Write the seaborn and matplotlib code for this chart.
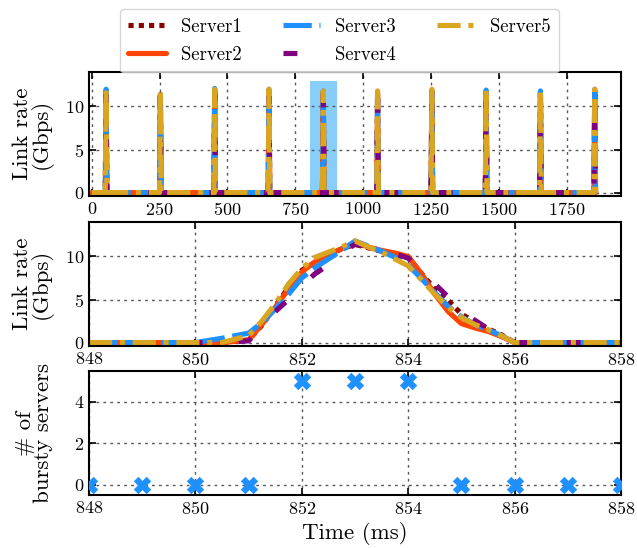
import matplotlib.pyplot as plt
import seaborn as sns
import pandas as pd
import numpy as np

sns.set_theme(style="ticks")
plt.rcParams.update({
    "font.family": "serif",
    "font.serif": ["cmr10"],
    "mathtext.fontset": "cm",
    "axes.formatter.use_mathtext": True,
    "axes.linewidth": 1.5,
    "axes.edgecolor": "black",
    "xtick.direction": "in",
    "ytick.direction": "in",
    "xtick.top": True,
    "ytick.right": True,
    "xtick.major.size": 5,
    "ytick.major.size": 5,
    "xtick.major.width": 1.2,
    "ytick.major.width": 1.2,
    "xtick.labelsize": 13,
    "ytick.labelsize": 13,
    "xtick.color": "black",
    "ytick.color": "black",
    "axes.labelcolor": "black",
    "text.color": "black",
})

servers = ["Server1", "Server2", "Server3", "Server4", "Server5"]
colors = {"Server1": "#8B0000", "Server2": "#FF4500", "Server3": "#1E90FF",
          "Server4": "#800080", "Server5": "#DAA520"}
dashes = {"Server1": (1, 1), "Server2": "", "Server3": (5.5, 1.5),
          "Server4": (2.7, 7), "Server5": (4.5, 1.5, 1, 1.5)}

# --- overview (0 - 1900 ms): one spike every 200 ms ---
burst_start = [50, 250, 450, 650, 850, 1050, 1250, 1450, 1650, 1850]
burst_peak = [53, 253, 453, 653, 853, 1053, 1253, 1453, 1653, 1853]
burst_end = [56, 256, 456, 656, 856, 1056, 1256, 1456, 1656, 1856]
peaks = {
    "Server1": [11.6, 11.2, 11.7, 11.6, 11.4, 11.3, 11.7, 11.6, 11.4, 11.7],
    "Server2": [11.8, 11.4, 11.8, 11.7, 11.7, 11.5, 11.8, 11.7, 11.5, 11.8],
    "Server3": [12.0, 11.3, 12.1, 12.0, 11.8, 11.6, 12.1, 11.9, 11.8, 12.0],
    "Server4": [11.3, 11.0, 11.4, 11.3, 11.4, 11.1, 11.4, 11.3, 11.2, 11.4],
    "Server5": [12.0, 11.7, 12.0, 12.0, 11.8, 11.8, 12.0, 12.0, 11.8, 12.0],
}

# --- zoom window 848 - 858 ms ---
zoom_time = [848, 849, 850, 850.5, 851, 851.25, 851.5, 851.75, 852, 852.25,
             852.5, 852.75, 853, 853.25, 853.5, 853.75, 854, 854.25, 854.5,
             854.75, 855, 855.25, 855.5, 855.75, 856, 857, 858]
zoom_rate = {
    "Server1": [0, 0, 0, 0, 0.3, 2.0, 4.2, 6.4, 8.4, 9.3, 10.1, 10.9, 11.4,
                11.0, 10.6, 10.3, 9.9, 8.0, 6.2, 4.9, 3.3, 2.4, 1.6, 0.9, 0, 0, 0],
    "Server2": [0, 0, 0, 0, 0.3, 2.1, 4.1, 6.2, 8.2, 9.4, 10.2, 10.9, 11.6,
                11.1, 10.7, 10.4, 10.0, 8.0, 5.6, 3.6, 2.2, 1.7, 1.3, 0.7, 0, 0, 0],
    "Server3": [0, 0, 0, 0.5, 1.1, 2.3, 3.9, 5.6, 7.5, 8.7, 9.7, 10.7, 11.8,
                11.2, 10.6, 9.9, 9.0, 7.4, 5.8, 4.2, 3.0, 2.1, 1.5, 0.8, 0, 0, 0],
    "Server4": [0, 0, 0, 0, 0.2, 1.8, 3.6, 5.0, 6.6, 8.0, 9.0, 10.5, 11.4,
                11.2, 10.7, 10.3, 9.8, 8.4, 6.8, 5.3, 3.6, 2.6, 1.6, 0.8, 0, 0, 0],
    "Server5": [0, 0, 0, 0, 0.8, 2.5, 4.5, 6.8, 8.6, 9.9, 10.5, 11.1, 11.8,
                11.1, 10.5, 9.7, 8.9, 7.3, 5.6, 4.1, 2.9, 2.1, 1.5, 0.8, 0, 0, 0],
}

# --- number of bursty servers per ms ---
count_time = [848, 849, 850, 851, 852, 853, 854, 855, 856, 857, 858]
count_bursty = [0, 0, 0, 0, 5, 5, 5, 0, 0, 0, 0]

# long-form tables
rows = []
for s in servers:
    rows.append((s, 0, 0.0))
    for t0, tp, t1, p in zip(burst_start, burst_peak, burst_end, peaks[s]):
        rows += [(s, t0, 0.0), (s, tp, p), (s, t1, 0.0)]
top_df = pd.DataFrame(rows, columns=["server", "time", "rate"])

rows = []
for s in servers:
    rows += [(s, t, r) for t, r in zip(zoom_time, zoom_rate[s])]
zoom_df = pd.DataFrame(rows, columns=["server", "time", "rate"])

fig = plt.figure(figsize=(6.37, 5.48), dpi=100)
ax1 = fig.add_axes([0.1397, 0.6423, 0.8353, 0.2263])
ax2 = fig.add_axes([0.1397, 0.3686, 0.8353, 0.2263])
ax3 = fig.add_axes([0.1397, 0.0967, 0.8353, 0.2263])

grid_kw = dict(color="0.35", linestyle=(0, (2, 3)), linewidth=1.0)
label_size = 16.5

# highlighted window
ax1.axvspan(805, 905, ymin=0, ymax=(13 + 0.4) / 14.4, color="#87CEFA",
            zorder=0, linewidth=0)
for ax, df in [(ax1, top_df), (ax2, zoom_df)]:
    sns.lineplot(data=df, x="time", y="rate", hue="server", style="server",
                 palette=colors, dashes=dashes, linewidth=3.7, estimator=None,
                 sort=False, ax=ax, legend=(ax is ax1))
    ax.set_ylim(-0.4, 14)
    ax.set_yticks([0, 5, 10])
    ax.set_xlabel("")
    ax.set_ylabel("Link rate\n(Gbps)", fontsize=label_size, linespacing=0.9)
    ax.grid(True, **grid_kw)

ax1.set_xlim(-10, 1950)
ax1.set_xticks([0, 250, 500, 750, 1000, 1250, 1500, 1750])
ax2.set_xlim(848, 858)
ax2.set_xticks([848, 850, 852, 854, 856, 858])

sns.scatterplot(x=count_time, y=count_bursty, marker="X", s=140,
                color="#1E90FF", edgecolor="#1E90FF", linewidth=0.5, ax=ax3,
                zorder=5)
ax3.set_xlim(848, 858)
ax3.set_ylim(-0.5, 5.5)
ax3.set_xticks([848, 850, 852, 854, 856, 858])
ax3.set_yticks([0, 2, 4])
ax3.grid(True, **grid_kw)
ax3.set_xlabel("Time (ms)", fontsize=label_size)
ax3.set_ylabel("# of\nbursty servers", fontsize=label_size, linespacing=0.9)

for ax in (ax1, ax2, ax3):
    ax.yaxis.set_label_coords(-0.068, 0.5)
    ax.set_axisbelow(True)

handles, labels = ax1.get_legend_handles_labels()
ax1.get_legend().remove()
fig.legend(handles, labels, loc="upper center", ncol=3,
           bbox_to_anchor=(0.533, 1.0), fontsize=13.5, frameon=True,
           fancybox=True, edgecolor="0.8", handlelength=2.0,
           handletextpad=0.8, columnspacing=2.2, labelspacing=0.55,
           borderpad=0.45)

fig.savefig("out.png", dpi=100)
